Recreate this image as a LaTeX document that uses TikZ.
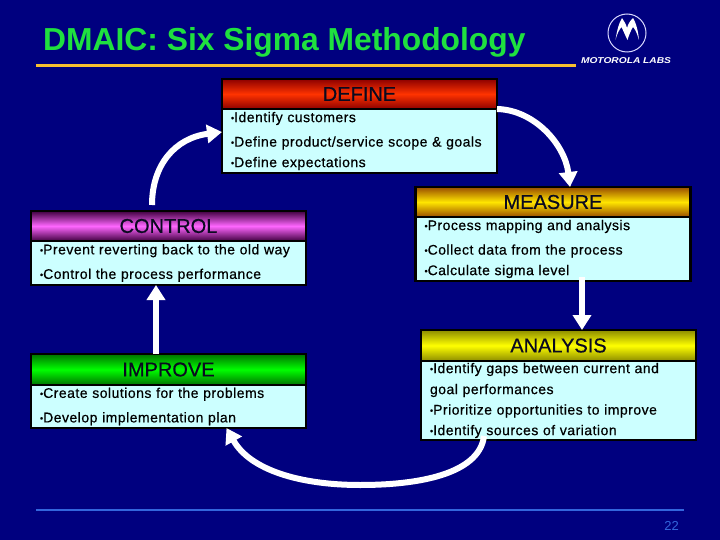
\documentclass[tikz,border=0pt]{standalone}
\usepackage{fontspec}
\setmainfont{Liberation Sans}
\newfontfamily\bodyfont[FakeBold=0.5,LetterSpace=3.5]{Liberation Sans}
\newfontfamily\headfont[FakeBold=0.6]{Liberation Sans}
\usetikzlibrary{positioning,arrows.meta}
\definecolor{slidebg}{HTML}{00007F}
\definecolor{bodyfill}{HTML}{CCFFFF}
\definecolor{titlegreen}{HTML}{1FE03F}
\definecolor{ruleyellow}{HTML}{F8C030}
\definecolor{footblue}{HTML}{3366DD}
\definecolor{headink}{HTML}{0A0A20}
\newcommand{\itm}{{\fontsize{9}{9}\selectfont\raisebox{1pt}{•}}}
\tikzset{
  headbox/.style={draw=black,line width=2.5pt,outer sep=0pt,inner sep=0pt,minimum width=275pt,
    text=headink,font=\fontsize{20}{20}\selectfont\headfont},
  bodybox/.style={draw=black,line width=2.5pt,outer sep=0pt,inner xsep=9pt,inner ysep=0pt,fill=bodyfill,
    text=black,text width=257pt,align=left,font=\fontsize{14}{20.5}\selectfont\bodyfont,minimum width=275pt,
    execute at begin node={\vspace*{4pt}},below=0pt of #1},
  flow/.style={draw=white,line width=6pt,-{Triangle[width=18pt,length=15pt]}}
}
\begin{document}
\begin{tikzpicture}[x=1pt,y=-1pt]
\fill[slidebg] (0,0) rectangle (720,540);
\useasboundingbox (0,0) rectangle (720,540);
% title and rules
\node[anchor=base west,inner sep=0pt,text=titlegreen,font=\fontsize{31.8}{32}\selectfont\bfseries] (title) at (43,51) {DMAIC: Six Sigma Methodology};
\fill[ruleyellow] (36,64.5) rectangle (576,67.5);
\fill[footblue] (36,509) rectangle (684,511);
\node[anchor=base east,inner sep=0pt,text=footblue,font=\fontsize{13}{13}\selectfont] (pageno) at (679,530) {22};
% logo
\node[draw=white!85!blue,circle,line width=1pt,minimum size=38pt,inner sep=0pt] (logoring) at (627,33) {};
\fill[white] (615.5,40) .. controls (617,30) and (619,23) .. (622,18) .. controls (624,21) and (626,24) .. (627,28)
  .. controls (628,24) and (630,21) .. (633,18) .. controls (636,23) and (638,30) .. (639,40)
  .. controls (637,33) and (635,29) .. (633,27) .. controls (631,30) and (629,35) .. (627.5,40)
  .. controls (625,35) and (623,30) .. (621.5,27) .. controls (619,30) and (617,34) .. (615.5,40) -- cycle;
\node[text=white,inner sep=0pt,xscale=1.2,font=\fontsize{8.5}{8.5}\selectfont\bfseries\itshape] (logotext) at (626,61) {MOTOROLA LABS};
% DEFINE
\node[headbox,minimum height=30pt,top color=red!55!black,bottom color=red!55!black,middle color=red!80!yellow,anchor=north west] (defineHead) at (222,79) {DEFINE};
\node[bodybox=defineHead,minimum height=64pt] (defineBody) {\itm Identify customers\\\itm Define product/service scope \& goals\\\itm Define expectations};
% MEASURE
\node[headbox,minimum height=30pt,top color=orange!60!black,bottom color=orange!60!black,middle color=yellow!80!orange,anchor=north west] (measureHead) at (415.5,187) {MEASURE};
\node[bodybox=measureHead,minimum height=64pt] (measureBody) {\itm Process mapping and analysis\\\itm Collect data from the process\\\itm Calculate sigma level};
% ANALYSIS
\node[headbox,minimum height=31pt,top color=yellow!55!black,bottom color=yellow!55!black,middle color=yellow,anchor=north west] (analysisHead) at (421,330) {ANALYSIS};
\node[bodybox=analysisHead,minimum height=79pt] (analysisBody) {\itm Identify gaps between current and\\[-3.5pt]goal performances\\\itm Prioritize opportunities to improve\\\itm Identify sources of variation};
% IMPROVE
\node[headbox,minimum height=31pt,top color=green!45!black,bottom color=green!45!black,middle color=green,anchor=north west] (improveHead) at (31,354) {IMPROVE};
\node[bodybox=improveHead,minimum height=43pt] (improveBody) {\itm Create solutions for the problems\\\itm Develop implementation plan};
% CONTROL
\node[headbox,minimum height=30pt,top color=violet!50!black,bottom color=violet!50!black,middle color=magenta!60!white,anchor=north west] (controlHead) at (31,211) {CONTROL};
\node[bodybox=controlHead,minimum height=44pt] (controlBody) {\itm Prevent reverting back to the old way\\\itm Control the process performance};
% arrows
\draw[flow] (defineHead.south east) .. controls (535,110) and (565,145) .. ([xshift=17pt]measureHead.north);
\draw[flow] ([shift={(29pt,4pt)}]measureBody.south) -- ([xshift=23.5pt]analysisHead.north);
\draw[flow] ([shift={(-74.5pt,4pt)}]analysisBody.south) .. controls (480,470) and (430,485) .. (360,485) .. controls (300,485) and (250,470) .. ([xshift=58pt]improveBody.south);
\draw[flow] ([xshift=-12.5pt]improveHead.north) -- ([xshift=-12.5pt]controlBody.south);
\draw[flow] ([shift={(-16.5pt,6pt)}]controlHead.north) .. controls (152,165) and (175,138) .. ([yshift=9pt]defineBody.west);
\end{tikzpicture}
\end{document}
